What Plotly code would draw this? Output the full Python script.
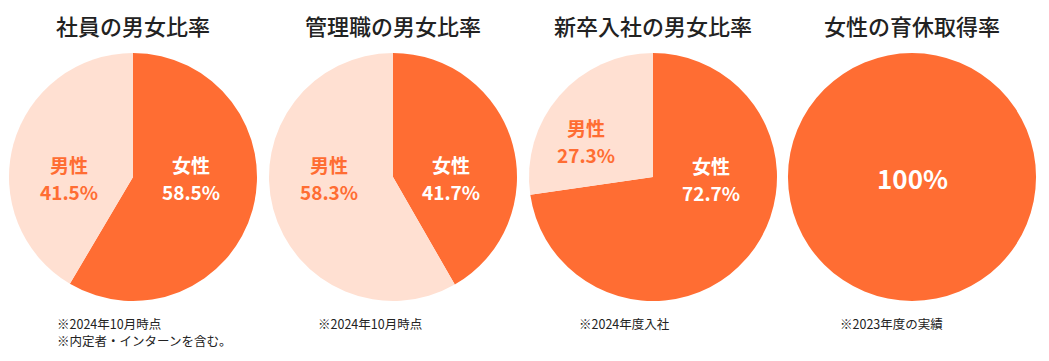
import plotly.graph_objects as go

titles = ["社員の男女比率", "管理職の男女比率", "新卒入社の男女比率", "女性の育休取得率"]
female = [58.5, 41.7, 72.7, 100.0]
male = [41.5, 58.3, 27.3, 0.0]
notes = [
    ["※2024年10月時点", "※内定者・インターンを含む。"],
    ["※2024年10月時点"],
    ["※2024年度入社"],
    ["※2023年度の実績"],
]

PAGE_W, PAGE_H = 1049, 361
OFF = 8  # default page body margin
W, H = PAGE_W - 2 * OFF, PAGE_H - 2 * OFF
DARK = "#FF6D33"
LIGHT = "#FFE0D2"
centers_x = [133, 393, 653, 912]
cy, r = 177, 124

fem_pos = [(191, 178), (451, 178), (711, 179), (912, 177)]
male_pos = [(69, 178), (329, 178), (586, 141), None]
note_x = [55, 316, 577, 838]
note_y = [323, 340]


def px(x):
    return (x - OFF) / W


def py(y):
    return 1 - (y - OFF) / H


def two_line(a, b, size, color):
    # label + value, with a slightly larger gap than the default line height
    return [
        dict(text=a, dy=-13.5, size=size, color=color),
        dict(text=b, dy=13.5, size=size, color=color),
    ]


fig = go.Figure()
annotations = []
for i in range(4):
    cx = centers_x[i]
    fig.add_trace(go.Pie(
        values=[female[i], male[i]],
        labels=["女性", "男性"],
        marker=dict(colors=[DARK, LIGHT], line=dict(width=0)),
        sort=False,
        direction="clockwise",
        rotation=0,
        textinfo="none",
        hoverinfo="label+percent",
        showlegend=False,
        domain=dict(x=[px(cx - r), px(cx + r)], y=[py(cy + r), py(cy - r)]),
    ))
    annotations.append(dict(
        x=px(cx), y=py(25), xref="paper", yref="paper", text=titles[i],
        showarrow=False, xanchor="center", yanchor="middle",
        font=dict(family="Noto Sans CJK JP", size=22, color="#222222", weight=500),
    ))
    fx, fy = fem_pos[i]
    if i < 3:
        parts = two_line("女性", f"{female[i]:.1f}%", 19, "white")
    else:
        parts = [dict(text=f"{female[i]:.0f}%", dy=0, size=26, color="white")]
    if male_pos[i] is not None:
        mx, my = male_pos[i]
        mparts = two_line("男性", f"{male[i]:.1f}%", 19, DARK)
    else:
        mparts = []
    for (lx, ly), plist in (((fx, fy), parts), ((male_pos[i] or (0, 0)), mparts)):
        for p in plist:
            annotations.append(dict(
                x=px(lx), y=py(ly + p["dy"]), xref="paper", yref="paper", text=p["text"],
                showarrow=False, xanchor="center", yanchor="middle",
                font=dict(family="Noto Sans CJK JP", size=p["size"], color=p["color"], weight="bold"),
            ))
    for j, line in enumerate(notes[i]):
        annotations.append(dict(
            x=px(note_x[i]), y=py(note_y[j]), xref="paper", yref="paper", text=line,
            showarrow=False, xanchor="left", yanchor="middle", align="left",
            font=dict(family="Noto Sans CJK JP", size=12.5, color="#222222"),
        ))

fig.update_layout(
    width=W, height=H,
    margin=dict(l=0, r=0, t=0, b=0),
    paper_bgcolor="white", plot_bgcolor="white",
    annotations=annotations,
)
fig.write_html("out.html")
